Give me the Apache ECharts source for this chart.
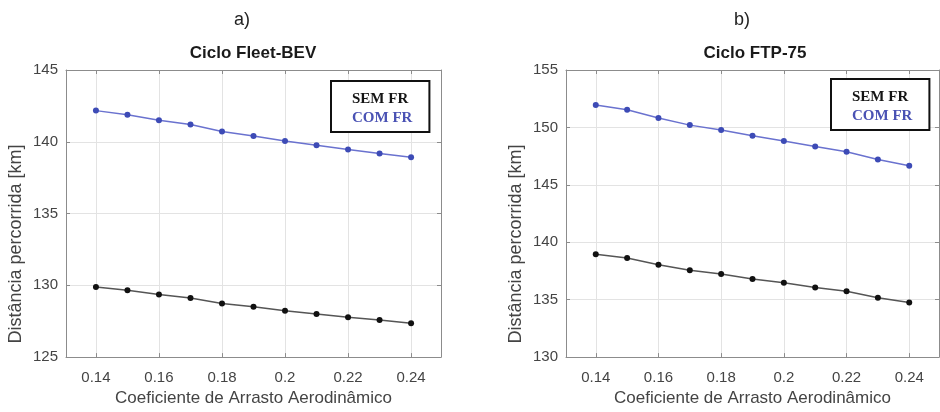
<!DOCTYPE html>
<html>
<head>
<meta charset="utf-8">
<style>
html,body{margin:0;padding:0;background:#fff;}
#chart{width:940px;height:412px;}
</style>
<script src="https://cdn.jsdelivr.net/npm/echarts@6/dist/echarts.min.js"></script>
</head>
<body>
<div id="chart"></div>
<script>
// ---- data ----
const dragCoef = [0.14, 0.15, 0.16, 0.17, 0.18, 0.19, 0.20, 0.21, 0.22, 0.23, 0.24];
const fleetSemFR = [129.88, 129.66, 129.36, 129.11, 128.73, 128.50, 128.23, 128.00, 127.78, 127.58, 127.35];
const fleetComFR = [142.17, 141.88, 141.50, 141.20, 140.71, 140.41, 140.05, 139.76, 139.46, 139.19, 138.92];
const ftpSemFR = [138.96, 138.62, 138.05, 137.57, 137.23, 136.81, 136.47, 136.07, 135.74, 135.17, 134.75];
const ftpComFR = [151.95, 151.53, 150.82, 150.20, 149.77, 149.27, 148.81, 148.33, 147.88, 147.20, 146.67];
const panelLetters = ['a)', 'b)'];
const panelTitles = ['Ciclo Fleet-BEV', 'Ciclo FTP-75'];
const seriesNames = ['SEM FR', 'COM FR'];
const xAxisTitle = 'Coeficiente de Arrasto Aerodinâmico';
const yAxisTitle = 'Distância percorrida [km]';
const yRanges = [[125, 145], [130, 155]];
const xRange = [0.1305, 0.2495];

const FONT = '"Liberation Sans", Arial, Helvetica, sans-serif';
const SERIF = '"Liberation Serif", "Times New Roman", serif';
const AXIS_COLOR = '#8c8c8c';
const GRID_COLOR = '#e3e3e3';
const LABEL_COLOR = '#444';
const BLUE_LINE = '#6a72cf';
const BLUE_DOT = '#3d4bb6';
const BLACK_LINE = '#555';
const BLACK_DOT = '#111';

const pairs = (xs, ys) => xs.map((x, i) => [x, ys[i]]);

const grids = [
  {left: 66, right: 499, top: 70, bottom: 47},
  {left: 566, right: 1, top: 70, bottom: 47}
];

const xAxes = [], yAxes = [];
for (let g = 0; g < 2; g++) {
  xAxes.push({
    type: 'value', gridIndex: g, min: xRange[0], max: xRange[1], splitNumber: 5,
    position: 'bottom',
    axisLine: {show: true, lineStyle: {color: AXIS_COLOR, width: 1}},
    axisTick: {show: true, inside: true, length: 4, lineStyle: {color: AXIS_COLOR}},
    axisLabel: {show: true, showMinLabel: false, showMaxLabel: false, margin: 13,
      color: LABEL_COLOR, fontSize: 15, fontFamily: FONT},
    splitLine: {show: true, lineStyle: {color: GRID_COLOR, width: 1}},
    name: xAxisTitle, nameLocation: 'middle', nameGap: 29,
    nameTextStyle: {color: LABEL_COLOR, fontSize: 17, fontFamily: FONT}
  });
  xAxes.push({
    type: 'value', gridIndex: g, min: xRange[0], max: xRange[1], splitNumber: 5,
    position: 'top',
    axisLine: {show: true, lineStyle: {color: AXIS_COLOR, width: 1}},
    axisTick: {show: true, inside: true, length: 4, lineStyle: {color: AXIS_COLOR}},
    axisLabel: {show: false},
    splitLine: {show: false}
  });
  yAxes.push({
    type: 'value', gridIndex: g, min: yRanges[g][0], max: yRanges[g][1], interval: 5,
    position: 'left',
    axisLine: {show: true, lineStyle: {color: AXIS_COLOR, width: 1}},
    axisTick: {show: true, inside: true, length: 4, lineStyle: {color: AXIS_COLOR}},
    axisLabel: {show: true, margin: 8, color: LABEL_COLOR, fontSize: 15, fontFamily: FONT},
    splitLine: {show: true, lineStyle: {color: GRID_COLOR, width: 1}}
  });
  yAxes.push({
    type: 'value', gridIndex: g, min: yRanges[g][0], max: yRanges[g][1], interval: 5,
    position: 'right',
    axisLine: {show: true, lineStyle: {color: AXIS_COLOR, width: 1}},
    axisTick: {show: true, inside: true, length: 4, lineStyle: {color: AXIS_COLOR}},
    axisLabel: {show: false},
    splitLine: {show: false}
  });
}

function lineSeries(name, g, ys, lineColor, dotColor) {
  return {
    name: name, type: 'line', xAxisIndex: g * 2, yAxisIndex: g * 2,
    data: pairs(dragCoef, ys),
    symbol: 'circle', symbolSize: 6, showSymbol: true,
    lineStyle: {color: lineColor, width: 1.5},
    itemStyle: {color: dotColor},
    animation: false, z: 3
  };
}

const series = [
  lineSeries(seriesNames[0], 0, fleetSemFR, BLACK_LINE, BLACK_DOT),
  lineSeries(seriesNames[1], 0, fleetComFR, BLUE_LINE, BLUE_DOT),
  lineSeries(seriesNames[0], 1, ftpSemFR, BLACK_LINE, BLACK_DOT),
  lineSeries(seriesNames[1], 1, ftpComFR, BLUE_LINE, BLUE_DOT)
];

function makeLegend(left, top) {
  return {
    left: left, top: top, orient: 'vertical',
    selectedMode: false,
    itemWidth: 0, itemHeight: 0, itemGap: 3,
    icon: 'rect',
    padding: [10, 17, 6, 16],
    borderColor: '#111', borderWidth: 2, backgroundColor: '#fff',
    textStyle: {fontFamily: SERIF, fontWeight: 'bold', fontSize: 15, lineHeight: 16},
    data: [
      {name: seriesNames[0], textStyle: {color: '#151515'}},
      {name: seriesNames[1], textStyle: {color: '#4a52b4'}}
    ],
    z: 10
  };
}

const titles = [
  {text: panelLetters[0], left: 242, top: 11, padding: 0, textAlign: 'center',
   textStyle: {fontSize: 18, fontWeight: 'normal', color: '#222', fontFamily: FONT}},
  {text: panelLetters[1], left: 742, top: 11, padding: 0, textAlign: 'center',
   textStyle: {fontSize: 18, fontWeight: 'normal', color: '#222', fontFamily: FONT}},
  {text: panelTitles[0], left: 253, top: 45, padding: 0, textAlign: 'center',
   textStyle: {fontSize: 17, fontWeight: 'bold', color: '#1a1a1a', fontFamily: FONT}},
  {text: panelTitles[1], left: 755, top: 45, padding: 0, textAlign: 'center',
   textStyle: {fontSize: 17, fontWeight: 'bold', color: '#1a1a1a', fontFamily: FONT}}
];

const graphics = [
  {type: 'text', x: 16, y: 244, rotation: Math.PI / 2,
   style: {text: yAxisTitle, fill: LABEL_COLOR, font: '18px ' + FONT, textAlign: 'center', textVerticalAlign: 'middle'}},
  {type: 'text', x: 516, y: 244, rotation: Math.PI / 2,
   style: {text: yAxisTitle, fill: LABEL_COLOR, font: '18px ' + FONT, textAlign: 'center', textVerticalAlign: 'middle'}}
];

const chart = echarts.init(document.getElementById('chart'), null, {renderer: 'canvas'});
chart.setOption({
  backgroundColor: '#fff',
  animation: false,
  title: titles,
  legend: [makeLegend(331, 81), makeLegend(831, 79)],
  grid: grids,
  xAxis: xAxes,
  yAxis: yAxes,
  series: series,
  graphic: graphics
});
</script>
</body>
</html>
